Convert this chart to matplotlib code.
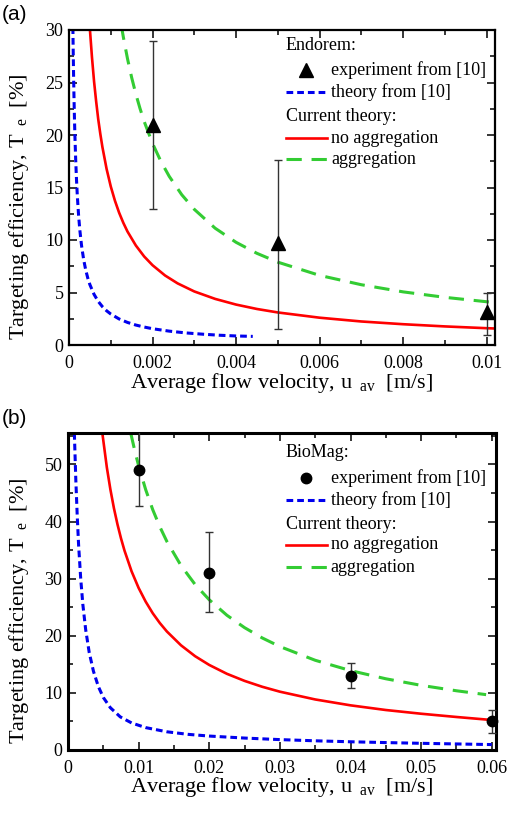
import matplotlib
matplotlib.use("Agg")
import matplotlib.pyplot as plt
from matplotlib.lines import Line2D
from matplotlib.ticker import MultipleLocator, FixedLocator, FixedFormatter

plt.rcParams['font.family'] = ['Liberation Serif', 'DejaVu Serif']
plt.rcParams['mathtext.fontset'] = 'custom'
plt.rcParams['mathtext.rm'] = 'Liberation Serif'
plt.rcParams['mathtext.it'] = 'Liberation Serif:italic'

# ---------------- Panel (a): Endorem ----------------
a_exp_u = [0.002, 0.005, 0.010]
a_exp_te = [21.0, 9.7, 3.1]
a_exp_lo = [13.0, 1.5, 1.0]
a_exp_hi = [29.0, 17.6, 5.0]

a_old_u = [0.000093, 0.0001, 0.00011, 0.00012, 0.00013, 0.00014, 0.00016, 0.00018, 0.0002,
           0.00023, 0.00026, 0.0003, 0.00035, 0.0004, 0.00045, 0.0005, 0.0006, 0.0007,
           0.0008, 0.0009, 0.001, 0.0012, 0.0014, 0.0016, 0.0018, 0.002, 0.0024, 0.0028,
           0.0032, 0.0036, 0.004, 0.0044]
a_old_te = [30.26, 28.15, 25.6, 23.48, 21.69, 20.15, 17.65, 15.71, 14.15, 12.32, 10.92, 9.48,
            8.15, 7.15, 6.37, 5.75, 4.82, 4.15, 3.65, 3.26, 2.95, 2.48, 2.15, 1.9, 1.71, 1.55,
            1.32, 1.15, 1.03, 0.93, 0.86, 0.82]

a_noagg_u = [0.0005, 0.00055, 0.0006, 0.00065, 0.0007, 0.00075, 0.0008, 0.0009, 0.001, 0.0011,
             0.0012, 0.0013, 0.0014, 0.0016, 0.0018, 0.002, 0.0023, 0.0026, 0.003, 0.0035,
             0.004, 0.0045, 0.005, 0.006, 0.007, 0.008, 0.009, 0.010, 0.0102]
a_noagg_te = [30.1, 27.4, 25.1, 23.2, 21.5, 20.1, 18.85, 16.77, 15.1, 13.74, 12.6, 11.64, 10.81,
              9.48, 8.43, 7.6, 6.62, 5.87, 5.1, 4.39, 3.85, 3.43, 3.1, 2.6, 2.24, 1.98, 1.77,
              1.6, 1.57]

a_agg_u = [0.00125, 0.0013, 0.0014, 0.0015, 0.0016, 0.0017, 0.0018, 0.002, 0.0022, 0.0024,
           0.0027, 0.003, 0.0035, 0.004, 0.0045, 0.005, 0.006, 0.007, 0.008, 0.009, 0.010,
           0.0102]
a_agg_te = [30.5, 29.35, 27.28, 25.48, 23.91, 22.53, 21.29, 19.2, 17.49, 16.06, 14.31, 12.92,
            11.12, 9.78, 8.73, 7.89, 6.63, 5.74, 5.06, 4.54, 4.12, 4.05]

a_xticks = [0, 0.002, 0.004, 0.006, 0.008, 0.01]
a_xticklabels = ['0', '0.002', '0.004', '0.006', '0.008', '0.01']
a_yticks = [0, 5, 10, 15, 20, 25, 30]

# ---------------- Panel (b): BioMag ----------------
b_exp_u = [0.01, 0.02, 0.04, 0.06]
b_exp_te = [49.0, 31.0, 13.0, 5.1]
b_exp_lo = [42.7, 24.1, 10.9, 3.0]
b_exp_hi = [56.0, 38.2, 15.3, 7.0]

b_old_u = [0.0009, 0.0011, 0.0013, 0.0015, 0.0018, 0.0021, 0.0025, 0.003, 0.0036, 0.0043,
           0.005, 0.006, 0.0074, 0.009, 0.011, 0.014, 0.017, 0.02, 0.025, 0.03, 0.035, 0.04,
           0.045, 0.05, 0.055, 0.06]
b_old_te = [55.5, 47.5, 41.2, 35.9, 30.0, 25.5, 21.1, 17.1, 13.8, 11.1, 9.2, 7.4, 5.8, 4.74,
            3.92, 3.19, 2.74, 2.44, 2.09, 1.82, 1.61, 1.44, 1.3, 1.17, 1.06, 0.95]

b_noagg_u = [0.00486, 0.0055, 0.006, 0.0065, 0.007, 0.0075, 0.008, 0.009, 0.010, 0.011, 0.012,
             0.013, 0.014, 0.016, 0.018, 0.020, 0.0225, 0.025, 0.0275, 0.030, 0.035, 0.040,
             0.045, 0.050, 0.055, 0.060]
b_noagg_te = [55.5, 49.47, 45.63, 42.35, 39.53, 37.07, 34.91, 31.29, 28.37, 25.97, 23.94, 22.23,
              20.75, 18.33, 16.42, 14.89, 13.34, 12.1, 11.07, 10.21, 8.85, 7.82, 7.0, 6.35,
              5.78, 5.25]

b_agg_u = [0.00888, 0.0095, 0.010, 0.011, 0.012, 0.013, 0.014, 0.016, 0.018, 0.020, 0.0225,
           0.025, 0.0275, 0.030, 0.035, 0.040, 0.045, 0.050, 0.055, 0.0592]
b_agg_te = [55.5, 52.16, 49.76, 45.58, 42.07, 39.09, 36.51, 32.29, 28.97, 26.3, 23.59, 21.42,
            19.62, 18.11, 15.71, 13.9, 12.47, 11.32, 10.37, 9.69]

b_xticks = [0, 0.01, 0.02, 0.03, 0.04, 0.05, 0.06]
b_xticklabels = ['0', '0.01', '0.02', '0.03', '0.04', '0.05', '0.06']
b_yticks = [0, 10, 20, 30, 40, 50]

RED = '#ff0000'
GREEN = '#33cc33'
BLUE = '#0000ee'

XLABEL = r'Average flow velocity, u $\,_{\mathrm{av}}$  [m/s]'
YLABEL = r'Targeting efficiency, T $\,_{\mathrm{e}}$  [%]'

fig = plt.figure(figsize=(5.07, 8.15), dpi=100)
W, H = 507.0, 815.0


def px_axes(l, t, r, b):
    return fig.add_axes([l / W, (H - b) / H, (r - l) / W, (b - t) / H])


ax_a = px_axes(69, 30, 495, 345)
ax_b = px_axes(68, 433, 496, 750)


def style_axes(ax, spine_w):
    for s in ax.spines.values():
        s.set_linewidth(spine_w)
    ax.tick_params(which='both', direction='in', top=True, right=True, labelsize=13,
                   width=1.1)
    ax.tick_params(which='major', length=6)
    ax.tick_params(which='minor', length=3.5)
    ax.tick_params(axis='x', pad=7)
    ax.tick_params(axis='y', pad=4)


def draw_panel(ax, exp_u, exp_te, exp_lo, exp_hi, old_u, old_te, na_u, na_te, ag_u, ag_te,
               marker, msize):
    ax.plot(old_u, old_te, color=BLUE, lw=2.2, dashes=(2.2, 1.3), zorder=2)
    ax.plot(na_u, na_te, color=RED, lw=1.9, zorder=2)
    ax.plot(ag_u, ag_te, color=GREEN, lw=2.2, dashes=(5.0, 3.2), zorder=2)
    yerr = [[t - lo for t, lo in zip(exp_te, exp_lo)],
            [hi - t for t, hi in zip(exp_te, exp_hi)]]
    ax.errorbar(exp_u, exp_te, yerr=yerr, fmt='none', ecolor='#333333', elinewidth=1.0,
                capsize=3.2, capthick=1.0, zorder=3, clip_on=True)
    ax.plot(exp_u, exp_te, linestyle='none', marker=marker, color='black', markersize=msize,
            zorder=4, clip_on=False)


def draw_legend(ax, title, marker, msize, rows_y, x0, x1, xt):
    tr = ax.transAxes
    fs = 13
    ax.text(x0, rows_y[0], title, transform=tr, fontsize=fs, va='center', ha='left')
    ax.add_line(Line2D([(x0 + x1) / 2], [rows_y[1]], transform=tr, marker=marker,
                       color='black', markersize=msize, linestyle='none'))
    ax.text(xt, rows_y[1], 'experiment from [10]', transform=tr, fontsize=fs, va='center', ha='left')
    ax.add_line(Line2D([x0, x1], [rows_y[2]] * 2, transform=tr, color=BLUE, lw=2.2,
                       dashes=(2.2, 1.3)))
    ax.text(xt, rows_y[2], 'theory from [10]', transform=tr, fontsize=fs, va='center', ha='left')
    ax.text(x0, rows_y[3], 'Current theory:', transform=tr, fontsize=fs, va='center', ha='left')
    ax.add_line(Line2D([x0, x1], [rows_y[4]] * 2, transform=tr, color=RED, lw=1.9))
    ax.text(xt, rows_y[4], 'no aggregation', transform=tr, fontsize=fs, va='center', ha='left')
    ax.add_line(Line2D([x0, x1], [rows_y[5]] * 2, transform=tr, color=GREEN, lw=2.2,
                       dashes=(5.0, 3.2)))
    ax.text(xt, rows_y[5], 'aggregation', transform=tr, fontsize=fs, va='center', ha='left')


# Panel (a)
draw_panel(ax_a, a_exp_u, a_exp_te, a_exp_lo, a_exp_hi, a_old_u, a_old_te,
           a_noagg_u, a_noagg_te, a_agg_u, a_agg_te, '^', 9.5)
ax_a.set_xlim(0, 0.0102)
ax_a.set_ylim(0, 30)
ax_a.xaxis.set_major_locator(FixedLocator(a_xticks))
ax_a.xaxis.set_major_formatter(FixedFormatter(a_xticklabels))
ax_a.xaxis.set_minor_locator(MultipleLocator(0.001))
ax_a.yaxis.set_major_locator(FixedLocator(a_yticks))
ax_a.yaxis.set_minor_locator(MultipleLocator(2.5))
style_axes(ax_a, 1.6)
ax_a.set_xlabel(XLABEL, fontsize=16)
ax_a.set_ylabel(YLABEL, fontsize=16)
ax_a.xaxis.set_label_coords(0.5, -0.083)
ax_a.yaxis.set_label_coords(-0.089, 0.44)
draw_legend(ax_a, 'Endorem:', '^', 9.5,
            [0.952, 0.873, 0.803, 0.724, 0.657, 0.590], 0.509, 0.606, 0.615)

# Panel (b)
draw_panel(ax_b, b_exp_u, b_exp_te, b_exp_lo, b_exp_hi, b_old_u, b_old_te,
           b_noagg_u, b_noagg_te, b_agg_u, b_agg_te, 'o', 7.5)
ax_b.set_xlim(0, 0.0606)
ax_b.set_ylim(0, 55.5)
ax_b.xaxis.set_major_locator(FixedLocator(b_xticks))
ax_b.xaxis.set_major_formatter(FixedFormatter(b_xticklabels))
ax_b.xaxis.set_minor_locator(MultipleLocator(0.005))
ax_b.yaxis.set_major_locator(FixedLocator(b_yticks))
ax_b.yaxis.set_minor_locator(MultipleLocator(5))
style_axes(ax_b, 2.2)
ax_b.set_xlabel(XLABEL, fontsize=16)
ax_b.set_ylabel(YLABEL, fontsize=16)
ax_b.xaxis.set_label_coords(0.5, -0.080)
ax_b.yaxis.set_label_coords(-0.086, 0.44)
draw_legend(ax_b, 'BioMag:', 'o', 7.5,
            [0.937, 0.858, 0.789, 0.710, 0.647, 0.577], 0.509, 0.605, 0.614)

fig.text(2 / W, 1 - 14 / H, '(a)', fontsize=15, family='Liberation Sans', va='center', ha='left')
fig.text(2 / W, 1 - 418 / H, '(b)', fontsize=15, family='Liberation Sans', va='center', ha='left')

fig.savefig('out.png', dpi=100)
